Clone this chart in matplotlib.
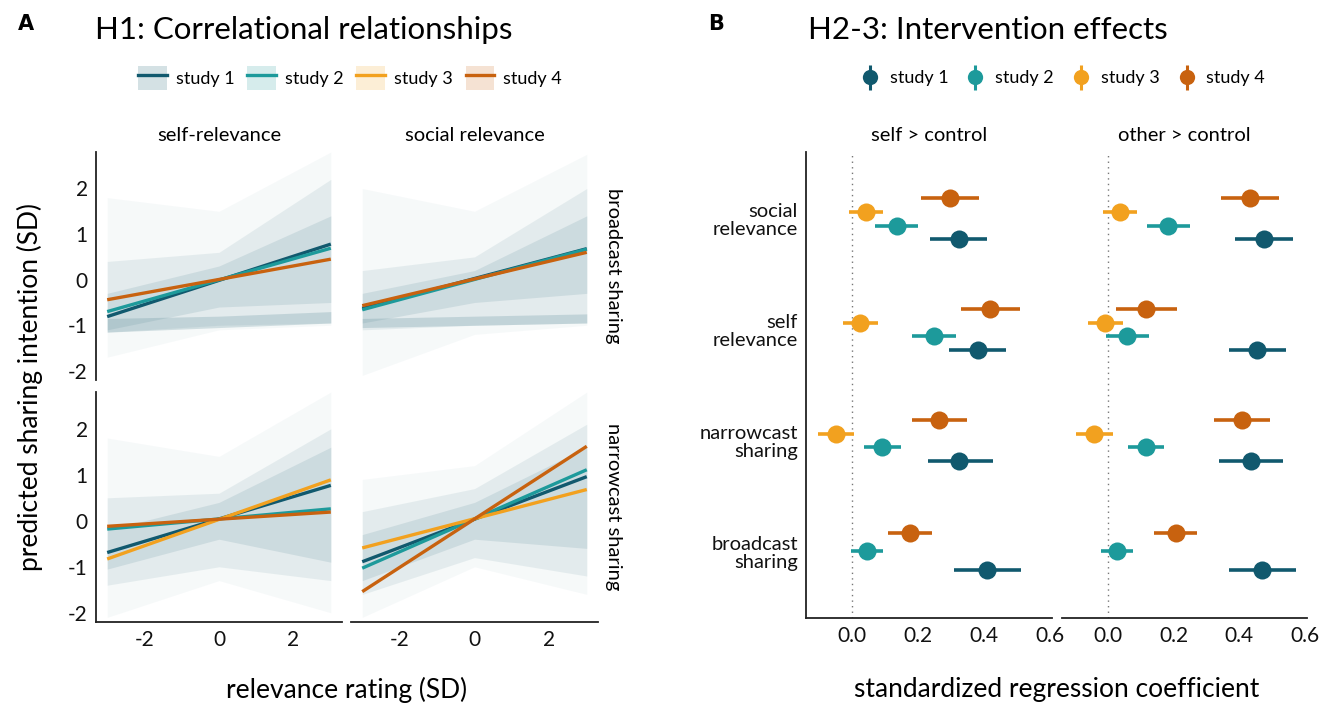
import numpy as np
import matplotlib
matplotlib.use('Agg')
import matplotlib.pyplot as plt
from matplotlib.lines import Line2D
from matplotlib.patches import Patch

plt.rcParams['font.family'] = ['Lato', 'DejaVu Sans']
plt.rcParams['axes.unicode_minus'] = False

W, H = 1332, 708

studies = ['study 1', 'study 2', 'study 3', 'study 4']
colors = ['#11596E', '#1D9A9B', '#F2A11F', '#C8620F']
spag_color = '#5F8E9B'

# ---- panel A data ----
rel_x = [-3, 3]
rows = ['broadcast sharing', 'narrowcast sharing']
cols = ['self-relevance', 'social relevance']

# predicted values at relevance -3 and +3 (None = study not in facet)
pred_broadcast_self = [(-0.81, 0.78), (-0.70, 0.69), None, (-0.44, 0.45)]
pred_broadcast_social = [(-0.63, 0.68), (-0.66, 0.67), None, (-0.57, 0.60)]
pred_narrowcast_self = [(-0.69, 0.77), (-0.18, 0.26), (-0.83, 0.89), (-0.12, 0.19)]
pred_narrowcast_social = [(-0.89, 0.96), (-1.03, 1.11), (-0.59, 0.68), (-1.54, 1.62)]

# spread of participant-level lines, lower/upper at relevance -3, 0, 3
spread_x = [-3, 0, 3]
spread_broadcast_self = {
    'outer': ([-1.7, -1.1, -1.0], [1.8, 1.5, 2.8]),
    'mid': ([-1.15, -1.0, -0.95], [0.4, 0.6, 2.2]),
    'core': ([-1.1, -0.6, -0.5], [-0.3, 0.3, 1.4]),
    'floor': ([-1.15, -1.05, -0.95], [-0.85, -0.8, -0.7]),
}
spread_broadcast_social = {
    'outer': ([-2.1, -1.2, -1.0], [2.0, 1.5, 2.75]),
    'mid': ([-1.1, -1.0, -0.95], [0.2, 0.5, 2.0]),
    'core': ([-0.95, -0.5, -0.3], [-0.3, 0.2, 1.4]),
    'floor': ([-1.05, -1.0, -0.95], [-0.85, -0.8, -0.75]),
}
spread_narrowcast_self = {
    'outer': ([-2.1, -1.3, -2.0], [1.8, 1.4, 2.8]),
    'mid': ([-1.4, -1.0, -1.3], [0.5, 0.6, 2.0]),
    'core': ([-1.05, -0.4, -0.9], [-0.2, 0.4, 1.6]),
}
spread_narrowcast_social = {
    'outer': ([-2.1, -1.0, -1.6], [0.9, 1.2, 2.8]),
    'mid': ([-1.6, -0.8, -1.2], [0.2, 0.7, 2.1]),
    'core': ([-1.3, -0.4, -0.6], [-0.3, 0.4, 1.6]),
}

preds = {(0, 0): pred_broadcast_self, (0, 1): pred_broadcast_social,
         (1, 0): pred_narrowcast_self, (1, 1): pred_narrowcast_social}
spreads = {(0, 0): spread_broadcast_self, (0, 1): spread_broadcast_social,
           (1, 0): spread_narrowcast_self, (1, 1): spread_narrowcast_social}

# ---- panel B data (order bottom -> top) ----
outcomes = ['broadcast\nsharing', 'narrowcast\nsharing', 'self\nrelevance', 'social\nrelevance']
nan = np.nan
self_est = [[0.411, 0.326, 0.381, 0.324], [0.045, 0.092, 0.248, 0.136],
            [nan, -0.050, 0.024, 0.042], [0.176, 0.265, 0.420, 0.297]]
self_lo = [[0.310, 0.230, 0.295, 0.236], [-0.004, 0.037, 0.183, 0.070],
           [nan, -0.104, -0.028, -0.009], [0.110, 0.182, 0.330, 0.209]]
self_hi = [[0.513, 0.427, 0.467, 0.410], [0.093, 0.148, 0.315, 0.200],
           [nan, 0.006, 0.080, 0.094], [0.242, 0.350, 0.510, 0.385]]
other_est = [[0.470, 0.437, 0.454, 0.475], [0.028, 0.117, 0.058, 0.184],
             [nan, -0.042, -0.008, 0.036], [0.208, 0.408, 0.116, 0.432]]
other_lo = [[0.368, 0.338, 0.368, 0.387], [-0.021, 0.062, -0.007, 0.119],
            [nan, -0.096, -0.062, -0.016], [0.142, 0.324, 0.024, 0.344]]
other_hi = [[0.573, 0.535, 0.543, 0.565], [0.078, 0.171, 0.126, 0.250],
            [nan, 0.014, 0.046, 0.090], [0.273, 0.493, 0.210, 0.521]]
contrasts = ['self > control', 'other > control']
coef_ticks = [0.0, 0.2, 0.4, 0.6]


def px(x0, y0, x1, y1):
    return [x0 / W, 1 - y1 / H, (x1 - x0) / W, (y1 - y0) / H]


def clean(ax, left, bottom):
    for s in ['top', 'right']:
        ax.spines[s].set_visible(False)
    ax.spines['left'].set_visible(left)
    ax.spines['bottom'].set_visible(bottom)
    for s in ['left', 'bottom']:
        ax.spines[s].set_color('#222222')
        ax.spines[s].set_linewidth(1.3)
    ax.tick_params(length=0, labelsize=15, pad=6, colors='#111111')
    if not left:
        ax.set_yticklabels([])
    if not bottom:
        ax.set_xticklabels([])


fig = plt.figure(figsize=(W / 100, H / 100), dpi=100)

# ---------------- panel A ----------------
a_boxes = {(0, 0): (96, 152, 342, 380), (0, 1): (351, 152, 598, 380),
           (1, 0): (96, 392, 342, 622), (1, 1): (351, 392, 598, 622)}
layer_alpha = {'outer': 0.05, 'mid': 0.12, 'core': 0.17, 'floor': 0.25}
for (r, c), box in a_boxes.items():
    ax = fig.add_axes(px(*box))
    for name, (lo, hi) in spreads[(r, c)].items():
        ax.fill_between(spread_x, lo, hi, color=spag_color, alpha=layer_alpha[name], lw=0)
    for i, p in enumerate(preds[(r, c)]):
        if p is None:
            continue
        ax.plot(rel_x, p, color=colors[i], lw=2.4, solid_capstyle='butt', zorder=3 + (i if i != 0 else 0.5))
    ax.set_xlim(-3.3, 3.3)
    ax.set_ylim(-2.2, 2.8)
    ax.set_xticks([-2, 0, 2])
    ax.set_yticks([-2, -1, 0, 1, 2])
    clean(ax, c == 0, r == 1)
    if r == 0:
        ax.set_title(cols[c], fontsize=14.5, pad=8)
    if c == 1:
        ax.text(1.03, 0.5, rows[r], transform=ax.transAxes, rotation=-90,
                va='center', ha='left', fontsize=14.5)

fig.text(18 / W, 1 - 24 / H, 'A', fontsize=15, fontweight='bold', va='center', family='DejaVu Sans')
fig.text(95 / W, 1 - 30 / H, 'H1: Correlational relationships', fontsize=22.5, va='center')
fig.text(30 / W, 1 - 387 / H, 'predicted sharing intention (SD)', rotation=90,
         fontsize=19, va='center', ha='center')
fig.text(347 / W, 1 - 690 / H, 'relevance rating (SD)', fontsize=19, va='center', ha='center')

handles_a = [(Patch(facecolor=c, alpha=0.18, lw=0), Line2D([], [], color=c, lw=2.4)) for c in colors]
fig.legend(handles_a, studies, loc='center', bbox_to_anchor=(350 / W, 1 - 78 / H), ncol=4,
           frameon=False, fontsize=13, handlelength=1.6, handleheight=1.6,
           columnspacing=0.7, handletextpad=0.5)

# ---------------- panel B ----------------
b_boxes = [(806, 152, 1052, 618), (1062, 152, 1307, 618)]
b_est = [self_est, other_est]
b_lo = [self_lo, other_lo]
b_hi = [self_hi, other_hi]
ypos = np.arange(1, len(outcomes) + 1)
for k, box in enumerate(b_boxes):
    ax = fig.add_axes(px(*box))
    ax.axvline(0, color='#777777', lw=1, ls=(0, (1, 3)), zorder=1)
    for g in range(len(outcomes)):
        present = [i for i in range(4) if not np.isnan(b_est[k][i][g])]
        n = len(present)
        for j, i in enumerate(present):
            y = ypos[g] + (j - (n - 1) / 2) * 0.5 / n
            ax.plot([b_lo[k][i][g], b_hi[k][i][g]], [y, y], color=colors[i], lw=2.6,
                    solid_capstyle='butt', zorder=2)
            ax.plot(b_est[k][i][g], y, 'o', color=colors[i], ms=13, mew=0, zorder=3)
    ax.set_xlim(-0.14, 0.607)
    ax.set_ylim(0.4, len(outcomes) + 0.6)
    ax.set_xticks(coef_ticks)
    ax.set_xticklabels(['%.1f' % t for t in coef_ticks])
    ax.set_yticks(ypos)
    ax.set_yticklabels(outcomes, linespacing=1.1)
    clean(ax, k == 0, True)
    if k == 0:
        ax.tick_params(axis='y', labelsize=14.5)
    ax.set_title(contrasts[k], fontsize=14.5, pad=8)

fig.text(708 / W, 1 - 24 / H, 'B', fontsize=15, fontweight='bold', va='center', family='DejaVu Sans')
fig.text(808 / W, 1 - 30 / H, 'H2-3: Intervention effects', fontsize=22.5, va='center')
fig.text(1057 / W, 1 - 690 / H, 'standardized regression coefficient', fontsize=19,
         va='center', ha='center')

handles_b = [(Line2D([], [], color=c, marker='|', ls='', ms=18, mew=2.2),
              Line2D([], [], color=c, marker='o', ls='', ms=11, mew=0)) for c in colors]
fig.legend(handles_b, studies, loc='center', bbox_to_anchor=(1062 / W, 1 - 78 / H), ncol=4,
           frameon=False, fontsize=13, handlelength=1.2, columnspacing=0.9, handletextpad=0.5)

fig.savefig('out.png', dpi=100)
